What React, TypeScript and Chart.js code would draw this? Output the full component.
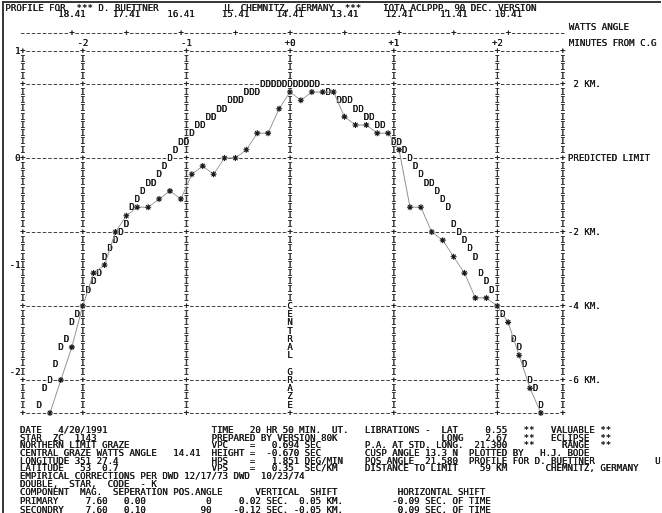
import React, { useEffect, useRef } from "react";
import { Chart, registerables } from "chart.js";

Chart.register(...registerables);

// ---- Data (minutes from central graze, km from predicted limit) ----
// Predicted limb profile, printed as "D"
const profileMinutes = [
  -0.263, -0.211, -0.158, -0.105, -0.053, 0, 0.053, 0.105, 0.158, 0.211, 0.263,
  -0.421, -0.368, -0.316, 0.368,
  -0.579, -0.526, -0.474, 0.474, 0.526, 0.579,
  -0.684, -0.632, 0.632, 0.684,
  -0.789, -0.737, 0.737, 0.789,
  -0.895, -0.842, 0.842, 0.895,
  -0.947,
  -1.053, -1.0, 1.0, 1.053,
  -1.105, 1.105,
  -1.158, 1.158,
  -1.211, 1.211,
  -1.263, 1.263,
  -1.368, -1.316, 1.316, 1.368,
  -1.421, 1.421,
  -1.474, 1.474,
  -1.526, 1.526,
  -1.579, 1.579,
  -1.632, 1.632,
  -1.684, 1.684,
  -1.737, 1.737,
  -1.789, 1.789,
  -1.842, 1.842,
  -1.895, 1.895,
  -1.947, 1.947,
  -2.053, 2.053,
  -2.105,
  -2.158, 2.158,
  -2.211, 2.211,
  -2.263, 2.263,
  -2.316, 2.316,
  -2.368, 2.368,
  -2.421, 2.421,
];
const profileKm = [
  2.0, 2.0, 2.0, 2.0, 2.0, 2.0, 2.0, 2.0, 2.0, 2.0, 2.0,
  1.78, 1.78, 1.78, 1.78,
  1.56, 1.56, 1.56, 1.56, 1.56, 1.56,
  1.33, 1.33, 1.33, 1.33,
  1.11, 1.11, 1.11, 1.11,
  0.89, 0.89, 0.89, 0.89,
  0.67,
  0.44, 0.44, 0.44, 0.44,
  0.22, 0.22,
  0, 0,
  -0.22, -0.22,
  -0.44, -0.44,
  -0.67, -0.67, -0.67, -0.67,
  -0.89, -0.89,
  -1.11, -1.11,
  -1.33, -1.33,
  -1.78, -1.78,
  -2.0, -2.0,
  -2.22, -2.22,
  -2.44, -2.44,
  -2.67, -2.67,
  -3.11, -3.11,
  -3.33, -3.33,
  -3.56, -3.56,
  -4.22, -4.22,
  -4.44,
  -4.89, -4.89,
  -5.11, -5.11,
  -5.56, -5.56,
  -6.0, -6.0,
  -6.22, -6.22,
  -6.67, -6.67,
];

// Observed profile, printed as "*" and joined by a pencil line
const observedMinutes = [
  -2.316, -2.211, -2.105, -2.0, -1.895, -1.789, -1.684, -1.579, -1.474, -1.368,
  -1.263, -1.158, -1.053, -0.947, -0.842, -0.737, -0.632, -0.526, -0.421, -0.316,
  -0.211, -0.105, 0, 0.105, 0.211, 0.316, 0.421, 0.526, 0.632, 0.737,
  0.842, 0.947, 1.053, 1.158, 1.263, 1.368, 1.474, 1.579, 1.684, 1.789,
  1.895, 2.0, 2.105, 2.211, 2.316, 2.421,
];
const observedKm = [
  -6.89, -6.0, -5.11, -4.0, -3.11, -2.89, -2.0, -1.56, -1.33, -1.33,
  -1.11, -0.89, -1.11, -0.44, -0.22, -0.44, 0, 0, 0.22, 0.67,
  0.67, 1.33, 1.78, 1.56, 1.78, 1.78, 1.78, 1.11, 0.89, 0.89,
  0.67, 0.67, 0.22, -1.33, -1.33, -2.0, -2.22, -2.67, -3.11, -3.78,
  -3.78, -4.0, -4.44, -5.33, -6.22, -6.89,
];

// ---- Axis ticks / labels ----
const minuteTicks = [-2, -1, 0, 1, 2];
const minuteTickLabels = ["-2", "-1", "+0", "+1", "+2"];
const wattsTicks = [18.41, 17.41, 16.41, 15.41, 14.41, 13.41, 12.41, 11.41, 10.41];
const kmTicks = [2, 0, -2, -4, -6];
const kmTickLabels = [" 2 KM.", "PREDICTED LIMIT", "-2 KM.", "-4 KM.", "-6 KM."];
const arcTicks = [1, 0, -1, -2];
const arcTickLabels = ["1", "0", "-1", "-2"];
const centralLabel = "CENTRAL GRAZE";
const centralLabelStartKm = -4;

// ---- Printed header / footer text (column, text) ----
type Seg = [number, string];
const headerSegs: Seg[] = [
  [0, "PROFILE FOR"], [13, "***"], [17, "D. BUETTNER"],
  [40, "U. CHEMNITZ, GERMANY"], [62, "***"], [69, "IOTA ACLPPP, 90 DEC. VERSION"],
];
const footerSegs: Seg[][] = [
  [[0, "DATE"], [7, "4/20/1991"], [35, "TIME"], [42, "20"], [45, "HR"], [48, "50"], [51, "MIN."], [57, "UT."],
   [63, "LIBRATIONS -  LAT"], [85, "0.55"], [92, "**"], [97, "VALUABLE"], [106, "**"]],
  [[0, "STAR"], [6, "ZC"], [10, "1143"], [35, "PREPARED BY VERSION 80K"],
   [77, "LONG"], [85, "2.67"], [92, "**"], [97, "ECLIPSE"], [106, "**"]],
  [[0, "NORTHERN LIMIT GRAZE"], [35, "VPC"], [42, "="], [46, "0.694 SEC"],
   [63, "P.A. AT STD. LONG."], [83, "21.300"], [92, "**"], [99, "RANGE"], [106, "**"]],
  [[0, "CENTRAL GRAZE WATTS ANGLE"], [28, "14.41"], [35, "HEIGHT"], [42, "="], [45, "-0.670 SEC"],
   [63, "CUSP ANGLE 13.3 N"], [82, "PLOTTED BY"], [95, "H.J. BODE"]],
  [[0, "LONGITUDE"], [10, "351"], [14, "27.4"], [35, "HPS"], [42, "="], [46, "1.851 DEG/MIN"],
   [63, "POS ANGLE  21.580"], [82, "PROFILE FOR D. BUETTNER"], [116, "U"]],
  [[0, "LATITUDE"], [11, "53"], [15, "0.7"], [35, "VPS"], [42, "="], [46, "0.35"], [52, "SEC/KM"],
   [63, "DISTANCE TO LIMIT"], [84, "59 KM"], [96, "CHEMNITZ, GERMANY"]],
  [[0, "EMPIRICAL CORRECTIONS PER DWD 12/17/73"], [39, "DWD"], [44, "10/23/74"]],
  [[0, "DOUBLE,"], [9, "STAR,"], [16, "CODE"], [22, "-"], [24, "K"]],
  [[0, "COMPONENT"], [11, "MAG."], [17, "SEPERATION"], [28, "POS.ANGLE"], [43, "VERTICAL"], [53, "SHIFT"],
   [69, "HORIZONTAL SHIFT"]],
  [[0, "PRIMARY"], [12, "7.60"], [19, "0.00"], [34, "0"], [40, "0.02 SEC."], [51, "0.05 KM."],
   [68, "-0.09 SEC. OF TIME"]],
  [[0, "SECONDRY"], [12, "7.60"], [19, "0.10"], [33, "90"], [39, "-0.12 SEC."], [50, "-0.05 KM."],
   [69, "0.09 SEC. OF TIME"]],
];
const footerY = [430, 437.7, 445.4, 453.1, 460.8, 468.5, 476.2, 484, 492.3, 501.5, 509.8];

// ---- Styling ----
const FONT_PX = 9.1;
const FONT = `${FONT_PX}px "DejaVu Sans Mono", "Liberation Mono", monospace`;
const INK = "#151515";
const RULE = "#444444";
const KM_PER_ROW = 2 / 9;
const COLS_PER_MIN = 19;

function layoutLine(segs: Seg[]): string {
  let s = "";
  for (const [col, text] of segs) {
    if (s.length < col) s += " ".repeat(col - s.length);
    else if (s.length > 0) s += " ";
    s += text;
  }
  return s;
}

const printoutPlugin = {
  id: "printout",
  beforeDatasetsDraw(chart: any) {
    const { ctx, chartArea: a, scales } = chart;
    const sx = scales.x, sy = scales.y, sx2 = scales.x2, sy2 = scales.y2;
    const cw = (sx.getPixelForValue(1) - sx.getPixelForValue(0)) / COLS_PER_MIN;
    const rh = sy.getPixelForValue(0) - sy.getPixelForValue(KM_PER_ROW);
    ctx.save();
    ctx.font = FONT;
    ctx.textAlign = "center";
    ctx.textBaseline = "middle";

    // double-strike printing for a dot-matrix look
    const print = (t: string, px: number, py: number, color = INK) => {
      ctx.fillStyle = color;
      ctx.fillText(t, px, py);
      ctx.fillText(t, px + 0.35, py);
    };
    const drawRule = (yy: number, x0: number, x1: number) => {
      ctx.save();
      ctx.strokeStyle = RULE;
      ctx.lineWidth = 1;
      const dash = 3.5;
      ctx.setLineDash([dash, cw - dash]);
      ctx.beginPath();
      const yl = Math.round(yy) + 0.5;
      ctx.moveTo(x0 + (cw - dash) / 2, yl);
      ctx.lineTo(x1, yl);
      ctx.stroke();
      ctx.restore();
    };
    const glyph = (ch: string, gx: number, gy: number, clear: boolean, color = INK) => {
      if (clear) {
        ctx.fillStyle = "#ffffff";
        ctx.fillRect(gx - cw / 2, gy - rh / 2 + 0.5, cw, rh - 1);
      }
      print(ch, gx, gy + 0.5, color);
    };

    // Horizontal rules of the profile grid
    const ruleYs = [sy.max, ...kmTicks, sy.min].map((v: number) => sy.getPixelForValue(v));
    ruleYs.forEach((yy: number) => drawRule(yy, a.left - cw / 2, a.right + cw / 2));

    // Vertical "I" columns and "+" crossings
    const colXs = [a.left, ...minuteTicks.map((v) => sx.getPixelForValue(v)), a.right];
    const zeroX = sx.getPixelForValue(0);
    const kTop = Math.round(sy.max / KM_PER_ROW);
    const kBot = Math.round(sy.min / KM_PER_ROW);
    const kCentral = Math.round(centralLabelStartKm / KM_PER_ROW);
    for (let k = kBot; k <= kTop; k++) {
      const yy = sy.getPixelForValue(k * KM_PER_ROW);
      const onRule = ruleYs.some((r: number) => Math.abs(r - yy) < 1);
      for (const cx of colXs) {
        const idx = kCentral - k;
        if (Math.abs(cx - zeroX) < 0.5 && idx >= 0 && idx < centralLabel.length) {
          const ch = centralLabel[idx];
          if (ch !== " ") glyph(ch, cx, yy, true);
          else if (onRule) glyph("+", cx, yy, true);
          continue;
        }
        if (onRule) glyph("+", cx, yy, true);
        else glyph("I", cx, yy, false, "#333333");
      }
    }

    // Watts angle scale along the top
    const topRuleY = 33;
    drawRule(topRuleY, a.left - cw / 2, a.right + cw / 2);
    wattsTicks.forEach((w) => {
      const px = sx2.getPixelForValue(w);
      glyph("+", px, topRuleY, true);
      print(w.toFixed(2), px, 14.5);
    });

    // Minute labels
    minuteTicks.forEach((v, i) => {
      print(minuteTickLabels[i], sx.getPixelForValue(v), 43.5);
    });

    // Left scale labels
    ctx.textAlign = "right";
    arcTicks.forEach((v, i) => {
      print(arcTickLabels[i], a.left - cw / 2 + 0.5, sy2.getPixelForValue(v) + 0.5);
    });

    // Right labels
    ctx.textAlign = "left";
    const rx = a.right + 5;
    print("WATTS ANGLE", rx + 1, 27.5);
    print("MINUTES FROM C.G", rx + 1, 43.5);
    kmTicks.forEach((v, i) => {
      print(kmTickLabels[i], rx, sy.getPixelForValue(v) + 0.5);
    });

    // Clear cells under printed stars, then print the D profile
    ctx.textAlign = "center";
    const starMeta = chart.getDatasetMeta(1);
    ctx.fillStyle = "#ffffff";
    starMeta.data.forEach((el: any) => ctx.fillRect(el.x - cw / 2 + 0.5, el.y - rh / 2 + 1, cw - 1, rh - 2));
    const dMeta = chart.getDatasetMeta(0);
    dMeta.data.forEach((el: any) => {
      ctx.fillStyle = "#ffffff";
      ctx.fillRect(el.x - cw / 2, el.y - rh / 2 + 0.5, cw, rh - 1);
    });
    dMeta.data.forEach((el: any) => {
      print("D", el.x, el.y + 0.5);
    });
    ctx.restore();
  },
};

export default function App() {
  const canvasRef = useRef<HTMLCanvasElement | null>(null);

  useEffect(() => {
    if (!canvasRef.current) return;
    const chart = new Chart(canvasRef.current, {
      type: "scatter",
      data: {
        datasets: [
          {
            label: "Predicted profile",
            data: profileMinutes.map((m, i) => ({ x: m, y: profileKm[i] })),
            showLine: false,
            pointRadius: 0,
            pointHoverRadius: 0,
            clip: false as any,
          },
          {
            label: "Observed",
            data: observedMinutes.map((m, i) => ({ x: m, y: observedKm[i] })),
            showLine: true,
            borderColor: "#929292",
            borderWidth: 1,
            tension: 0,
            pointStyle: "star",
            pointRadius: 3,
            pointHoverRadius: 3,
            pointBorderColor: "#1a1a1a",
            pointBackgroundColor: "rgba(0,0,0,0)",
            pointBorderWidth: 1.1,
            clip: false as any,
          },
        ],
      },
      options: {
        animation: false,
        responsive: false,
        devicePixelRatio: 1,
        events: [],
        layout: { padding: { left: 22.7, right: 99.25, top: 51, bottom: 100 } },
        plugins: { legend: { display: false }, tooltip: { enabled: false }, title: { display: false } },
        scales: {
          x: { type: "linear", min: -2.579, max: 2.632, display: false },
          y: { type: "linear", min: -6.889, max: 2.889, display: false },
          x2: { type: "linear", axis: "x", position: "top", min: 9.41, max: 19.31, reverse: true, display: false },
          y2: { type: "linear", axis: "y", position: "left", min: -2.385, max: 1, display: false },
        } as any,
      },
      plugins: [printoutPlugin],
    });
    return () => chart.destroy();
  }, []);

  const textStyle = (x: number, y: number): React.CSSProperties => ({
    position: "absolute",
    left: x,
    top: y - 4.2,
    fontFamily: '"DejaVu Sans Mono", "Liberation Mono", monospace',
    fontSize: FONT_PX,
    lineHeight: "9px",
    whiteSpace: "pre",
    color: INK,
    textShadow: `0.35px 0 0 ${INK}`,
    margin: 0,
  });

  return (
    <div
      style={{
        position: "absolute",
        left: 0,
        top: 0,
        width: 662,
        height: 513,
        background: "#ffffff",
        overflow: "hidden",
      }}
    >
      <div style={{ position: "absolute", left: 2, top: 1, width: 659, height: 1.6, background: "#3a3a3a" }} />
      <div style={{ position: "absolute", left: 2, top: 1, width: 1.8, height: 512, background: "#3a3a3a" }} />
      <canvas ref={canvasRef} width={662} height={513} style={{ position: "absolute", left: 0, top: 0 }} />
      <div style={textStyle(5.2, 7.8)}>{layoutLine(headerSegs)}</div>
      {footerSegs.map((segs, i) => (
        <div key={i} style={textStyle(19.8, footerY[i])}>
          {layoutLine(segs)}
        </div>
      ))}
    </div>
  );
}
